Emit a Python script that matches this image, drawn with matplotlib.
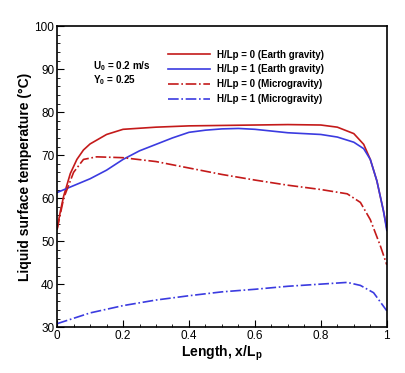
import numpy as np
import matplotlib
matplotlib.use("Agg")
import matplotlib.pyplot as plt
from matplotlib.ticker import MultipleLocator

plt.rcParams['font.family'] = ['Liberation Sans', 'DejaVu Sans']
plt.rcParams['mathtext.fontset'] = 'custom'
plt.rcParams['mathtext.rm'] = 'Liberation Sans'
plt.rcParams['mathtext.bf'] = 'Liberation Sans:bold'

# Earth gravity, H/Lp = 0
x_e0 = [0.0, 0.01, 0.02, 0.04, 0.06, 0.08, 0.1, 0.15, 0.2, 0.3, 0.4, 0.5, 0.6, 0.7, 0.8, 0.85, 0.9, 0.93, 0.95, 0.97, 0.99, 1.0]
t_e0 = [52.9, 57.0, 60.5, 65.7, 69.0, 71.2, 72.6, 74.8, 76.0, 76.5, 76.8, 76.9, 77.0, 77.1, 77.0, 76.5, 75.0, 72.5, 69.0, 64.0, 57.0, 53.0]

# Earth gravity, H/Lp = 1
x_e1 = [0.0, 0.05, 0.1, 0.15, 0.2, 0.25, 0.3, 0.35, 0.4, 0.45, 0.5, 0.55, 0.6, 0.7, 0.8, 0.85, 0.9, 0.93, 0.95, 0.97, 0.99, 1.0]
t_e1 = [61.3, 62.9, 64.5, 66.5, 69.0, 71.0, 72.5, 74.0, 75.3, 75.8, 76.1, 76.2, 76.0, 75.2, 74.8, 74.2, 73.0, 71.5, 69.0, 64.0, 57.0, 52.5]

# Microgravity, H/Lp = 0
x_m0 = [0.0, 0.02, 0.05, 0.08, 0.12, 0.2, 0.3, 0.4, 0.5, 0.6, 0.7, 0.8, 0.88, 0.92, 0.95, 0.98, 1.0]
t_m0 = [52.7, 60.0, 66.0, 69.0, 69.6, 69.4, 68.5, 67.0, 65.5, 64.2, 63.0, 62.0, 61.0, 59.0, 55.0, 49.0, 44.5]

# Microgravity, H/Lp = 1
x_m1 = [0.0, 0.1, 0.2, 0.3, 0.4, 0.5, 0.6, 0.7, 0.8, 0.88, 0.92, 0.96, 1.0]
t_m1 = [30.8, 33.3, 35.0, 36.3, 37.3, 38.2, 38.8, 39.5, 40.0, 40.4, 39.7, 38.0, 33.8]

xticks = [0, 0.2, 0.4, 0.6, 0.8, 1.0]
xtick_labels = ['0', '0.2', '0.4', '0.6', '0.8', '1']

red = '#c41a1a'
blue = '#3b3be0'

fig = plt.figure(figsize=(4.05, 3.73), dpi=100)
ax = fig.add_axes([0.141, 0.123, 0.814, 0.807])

ax.plot(x_e0, t_e0, '-', color=red, lw=1.2, label='H/Lp = 0 (Earth gravity)')
ax.plot(x_e1, t_e1, '-', color=blue, lw=1.2, label='H/Lp = 1 (Earth gravity)')
ax.plot(x_m0, t_m0, '-.', color=red, lw=1.2, label='H/Lp = 0 (Microgravity)')
ax.plot(x_m1, t_m1, '-.', color=blue, lw=1.2, label='H/Lp = 1 (Microgravity)')

ax.set_xlim(0, 1)
ax.set_ylim(30, 100)
ax.set_xticks(xticks)
ax.set_xticklabels(xtick_labels)
ax.xaxis.set_minor_locator(MultipleLocator(0.05))
ax.yaxis.set_major_locator(MultipleLocator(10))
ax.yaxis.set_minor_locator(MultipleLocator(2))
ax.tick_params(which='both', direction='in', labelsize=8.5, pad=2)
ax.tick_params(which='major', length=5)
ax.tick_params(which='minor', length=2.5)
for s in ax.spines.values():
    s.set_linewidth(1.2)

ax.set_xlabel(r'Length, x/L$_\mathbf{p}$', fontsize=10, fontweight='bold', labelpad=1)
ax.set_ylabel('Liquid surface temperature (°C)', fontsize=10, fontweight='bold', labelpad=2)

ax.text(0.11, 0.866, r'U$_\mathbf{0}$ = 0.2 m/s', transform=ax.transAxes, fontsize=7.1,
        fontweight='bold', va='center')
ax.text(0.11, 0.819, r'Y$_\mathbf{0}$ = 0.25', transform=ax.transAxes, fontsize=7.1,
        fontweight='bold', va='center')

leg = ax.legend(loc='upper right', bbox_to_anchor=(0.822, 0.935), frameon=False,
                prop={'size': 7.0, 'weight': 'bold'}, handlelength=4.4,
                handletextpad=0.7, labelspacing=0.5, borderaxespad=0)

fig.savefig('out.png', dpi=100)
